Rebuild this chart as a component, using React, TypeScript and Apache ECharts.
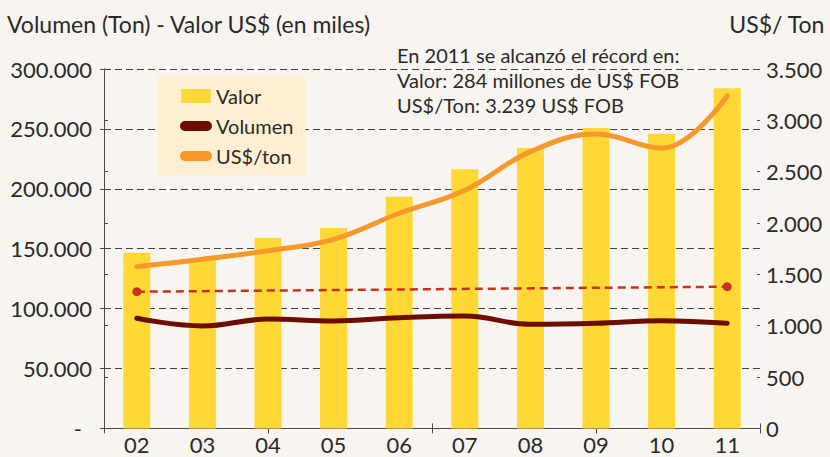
import React, { useEffect, useRef } from 'react';
import * as echarts from 'echarts';

const categories = ['02', '03', '04', '05', '06', '07', '08', '09', '10', '11'];
const valor = [146700, 141000, 158900, 167300, 193400, 216300, 234000, 250700, 246000, 284000];
const volumen = [91900, 85500, 91300, 89700, 92400, 93800, 86900, 87700, 89900, 87700];
const usdTon = [1575, 1647, 1730, 1841, 2095, 2320, 2695, 2867, 2728, 3239];
const tendencia = [114100, null, null, null, null, null, null, null, null, 118300];

const leftTitle = 'Volumen (Ton) - Valor US$ (en miles)';
const rightTitle = 'US$/ Ton';
const noteLines = [
  'En 2011 se alcanzó el récord en:',
  'Valor: 284 millones de US$ FOB',
  'US$/Ton: 3.239 US$ FOB',
];

const FONT = 'Lato';
const TXT = '#2a2a2a';
const AXIS = '#4a4a4a';

const fmt = (v: number) => String(v).replace(/\B(?=(\d{3})+(?!\d))/g, '.');
const capsule = 'path://M5,0 L27,0 A5,5 0 0 1 27,10 L5,10 A5,5 0 0 1 5,0 Z';
const rectIcon = 'path://M0,0 L28,0 L28,13.4 L0,13.4 Z';

export default function App() {
  const ref = useRef<HTMLDivElement>(null);
  useEffect(() => {
    document.body.style.margin = '0';
    const chart = echarts.init(ref.current!, undefined, { renderer: 'svg' });
    const hiddenY = {
      type: 'value',
      axisLabel: { show: false },
      splitLine: { show: false },
      axisLine: { show: false },
    };
    chart.setOption({
      animation: false,
      backgroundColor: '#F8F5F0',
      textStyle: { fontFamily: FONT, color: TXT },
      title: [
        {
          text: leftTitle, left: 7, top: 12, padding: 0,
          textStyle: { fontFamily: FONT, fontSize: 23, fontWeight: 'normal', color: TXT },
        },
        {
          text: rightTitle, right: 5, top: 12, padding: 0,
          textStyle: { fontFamily: FONT, fontSize: 23, fontWeight: 'normal', color: TXT },
        },
        {
          text: noteLines.join('\n'), left: 397, top: 42, padding: 0,
          textStyle: { fontFamily: FONT, fontSize: 20, fontWeight: 'normal', color: TXT, lineHeight: 25 },
        },
      ],
      legend: {
        orient: 'vertical',
        left: 158,
        top: 76,
        padding: [10, 12, 9, 22],
        backgroundColor: '#FEEFD3',
        itemWidth: 32,
        itemHeight: 14,
        itemGap: 10,
        itemStyle: { borderWidth: 0 },
        textStyle: { fontFamily: FONT, fontSize: 20, color: TXT, padding: [0, 0, 0, -1] },
        data: [
          { name: 'Valor', icon: rectIcon },
          { name: 'Volumen', icon: capsule },
          { name: 'US$/ton', icon: capsule },
        ],
      },
      grid: { left: 104, right: 70, top: 69, bottom: 28.6 },
      xAxis: [
        {
          type: 'category',
          data: categories,
          axisLine: { lineStyle: { color: AXIS, width: 1 } },
          axisTick: { show: false },
          axisLabel: { fontFamily: FONT, fontSize: 22, color: TXT, margin: 5 },
        },
        {
          type: 'value', min: 0, max: 10, interval: 2.5, position: 'bottom',
          axisLine: { show: false }, axisLabel: { show: false }, splitLine: { show: false },
          axisTick: { show: true, length: 5, lineStyle: { color: AXIS } },
        },
        {
          type: 'value', min: 0, max: 10, interval: 2.5, position: 'bottom',
          axisLine: { show: false }, axisLabel: { show: false }, splitLine: { show: false },
          axisTick: { show: true, inside: true, length: 5, lineStyle: { color: AXIS } },
        },
      ],
      yAxis: [
        {
          type: 'value', min: 0, max: 300000, interval: 50000, position: 'left',
          axisLine: { show: true, lineStyle: { color: AXIS, width: 1 } },
          axisTick: { show: true, length: 4, lineStyle: { color: AXIS } },
          axisLabel: {
            fontFamily: FONT, fontSize: 22, color: TXT, margin: 12,
            formatter: (v: number) => (v === 0 ? '{d|-}' : fmt(v)),
            rich: { d: { fontFamily: FONT, fontSize: 22, color: TXT, padding: [0, 10, 0, 0] } },
          },
          splitLine: { show: true, lineStyle: { color: '#444', width: 1, type: [7, 4] } },
        },
        {
          type: 'value', min: 0, max: 3500, interval: 500, position: 'right',
          axisLine: { show: true, lineStyle: { color: AXIS, width: 1 } },
          axisTick: { show: true, length: 4, lineStyle: { color: AXIS } },
          axisLabel: { fontFamily: FONT, fontSize: 22, color: TXT, margin: 6, formatter: (v: number) => fmt(v) },
          splitLine: { show: false },
        },
        {
          ...hiddenY, min: 0, max: 300000, interval: 50000, position: 'left',
          axisTick: { show: true, inside: true, length: 3, lineStyle: { color: AXIS } },
        },
        {
          ...hiddenY, min: 0, max: 3500, interval: 500, position: 'right',
          axisTick: { show: true, inside: true, length: 3, lineStyle: { color: AXIS } },
        },
      ],
      series: [
        {
          name: 'Valor', type: 'bar', yAxisIndex: 0, data: valor, barWidth: 27,
          itemStyle: { color: '#FFD836' },
        },
        {
          name: 'Tendencia', type: 'line', yAxisIndex: 0, data: tendencia, connectNulls: true,
          symbol: 'circle', symbolSize: 9, showSymbol: true,
          itemStyle: { color: '#C8321E' },
          lineStyle: { color: '#C8321E', width: 2.5, type: [8, 5] },
        },
        {
          name: 'Volumen', type: 'line', yAxisIndex: 0, data: volumen, smooth: 0.4,
          showSymbol: false, itemStyle: { color: '#6B0D00' },
          lineStyle: { color: '#6B0D00', width: 5, cap: 'round' },
        },
        {
          name: 'US$/ton', type: 'line', yAxisIndex: 1, data: usdTon, smooth: 0.4,
          showSymbol: false, itemStyle: { color: '#F7982B' },
          lineStyle: { color: '#F7982B', width: 5, cap: 'round' },
        },
      ],
    });
    return () => chart.dispose();
  }, []);
  return <div ref={ref} style={{ width: 830, height: 457 }} />;
}
